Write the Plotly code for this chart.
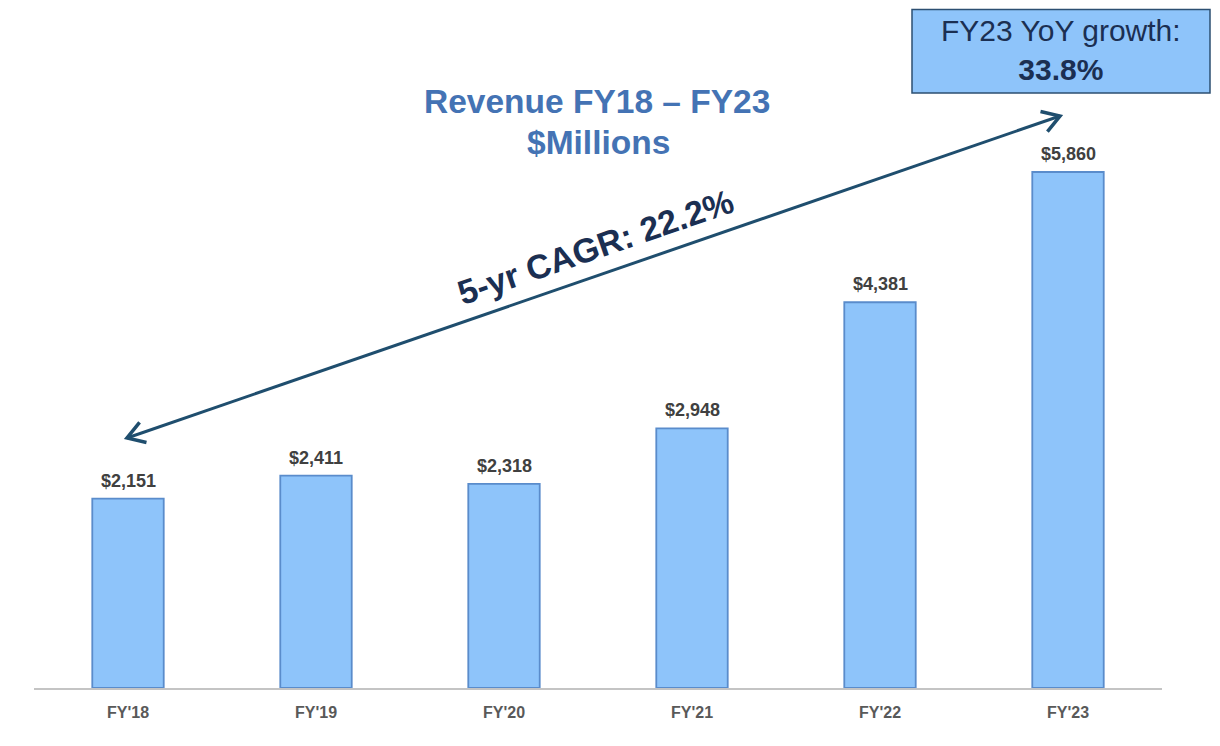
import math
import plotly.graph_objects as go

categories = ["FY'18", "FY'19", "FY'20", "FY'21", "FY'22", "FY'23"]
revenue = [2151, 2411, 2318, 2948, 4381, 5860]
title_lines = ["Revenue FY18 – FY23", "$Millions"]
cagr_text = "5-yr CAGR: 22.2%"
yoy_label = "FY23 YoY growth:"
yoy_value = "33.8%"

OFF = 8  # page body margin
W, H = 1220 - 2 * OFF, 746 - 2 * OFF
# target page pixels: plot left 34, right 1162, top 40, bottom 688
L, T = 34 - OFF, 40 - OFF
R, B = W - (1162 - OFF), H - (688 - OFF)
PW, PH = W - L - R, H - T - B
YMAX = (688 - 40) / (516 / 5860)

FONT = "Liberation Sans, Arial, sans-serif"
ARROW_C = "#1f4e6e"
NAVY = "#1b2f52"


def px(x, y):
    """page pixel -> paper coordinates"""
    return (x - OFF - L) / PW, (H - B - (y - OFF)) / PH


fig = go.Figure()
fig.add_trace(go.Bar(
    x=categories, y=revenue, width=0.38,
    marker=dict(color="#8ec4fa", line=dict(color="#5a8ccb", width=1.8)),
    hoverinfo="skip",
))

annotations = []
for c, v in zip(categories, revenue):
    annotations.append(dict(
        x=c, y=v, xref="x", yref="y", text=f"<b>${v:,}</b>", showarrow=False,
        xanchor="center", yanchor="bottom", yshift=6,
        font=dict(family=FONT, size=18, color="#404040"),
    ))


def label(xy, text, size, color, angle=0):
    x, y = px(*xy)
    annotations.append(dict(x=x, y=y, xref="paper", yref="paper", showarrow=False,
                            xanchor="center", yanchor="middle", textangle=angle,
                            text=text, font=dict(family=FONT, size=size, color=color)))


label((597, 102), f"<b>{title_lines[0]}</b>", 33.5, "#4473b4")
label((598, 142), f"<b>{title_lines[1]}</b>", 33.5, "#4473b4")
label((595, 247), f"<b>{cagr_text}</b>", 34, NAVY, angle=-19)
label((1061, 50), f"{yoy_label}<br><b>{yoy_value}</b>", 30, NAVY)

shapes = []
x0, y0 = px(912, 93)
x1, y1 = px(1210, 9.5)
shapes.append(dict(type="rect", xref="paper", yref="paper", x0=x0, y0=y0, x1=x1, y1=y1,
                   fillcolor="#8ec4fa", line=dict(color="#2c4f72", width=1.5), layer="below"))

p0 = (127, 438)
p1 = (1060, 116)
a0 = px(*p0)
a1 = px(*p1)
shapes.append(dict(type="line", xref="paper", yref="paper", x0=a0[0], y0=a0[1], x1=a1[0], y1=a1[1],
                   line=dict(color=ARROW_C, width=3)))


def chevron(tip, other, length=20, ang=32):
    dx, dy = other[0] - tip[0], other[1] - tip[1]
    d = math.hypot(dx, dy)
    ux, uy = dx / d, dy / d
    pts = []
    for s in (1, -1):
        a = math.radians(ang * s)
        rx = ux * math.cos(a) - uy * math.sin(a)
        ry = ux * math.sin(a) + uy * math.cos(a)
        pts.append(px(tip[0] + rx * length, tip[1] + ry * length))
    t = px(*tip)
    return f"M {pts[0][0]},{pts[0][1]} L {t[0]},{t[1]} L {pts[1][0]},{pts[1][1]}"


for tip, other in ((p0, p1), (p1, p0)):
    shapes.append(dict(type="path", xref="paper", yref="paper", path=chevron(tip, other),
                       line=dict(color=ARROW_C, width=3.5)))

fig.update_layout(
    width=W, height=H, margin=dict(l=L, r=R, t=T, b=B, autoexpand=False),
    paper_bgcolor="white", plot_bgcolor="white", showlegend=False,
    annotations=annotations, shapes=shapes,
    xaxis=dict(showline=True, linecolor="#c4c4c4", linewidth=2, showgrid=False, ticks="",
               ticklabelstandoff=9,
               tickfont=dict(family=FONT, size=16, color="#595959", weight="bold"),
               fixedrange=True),
    yaxis=dict(range=[0, YMAX], visible=False, showgrid=False, fixedrange=True),
)

fig.write_html("out.html", config={"displayModeBar": False})
